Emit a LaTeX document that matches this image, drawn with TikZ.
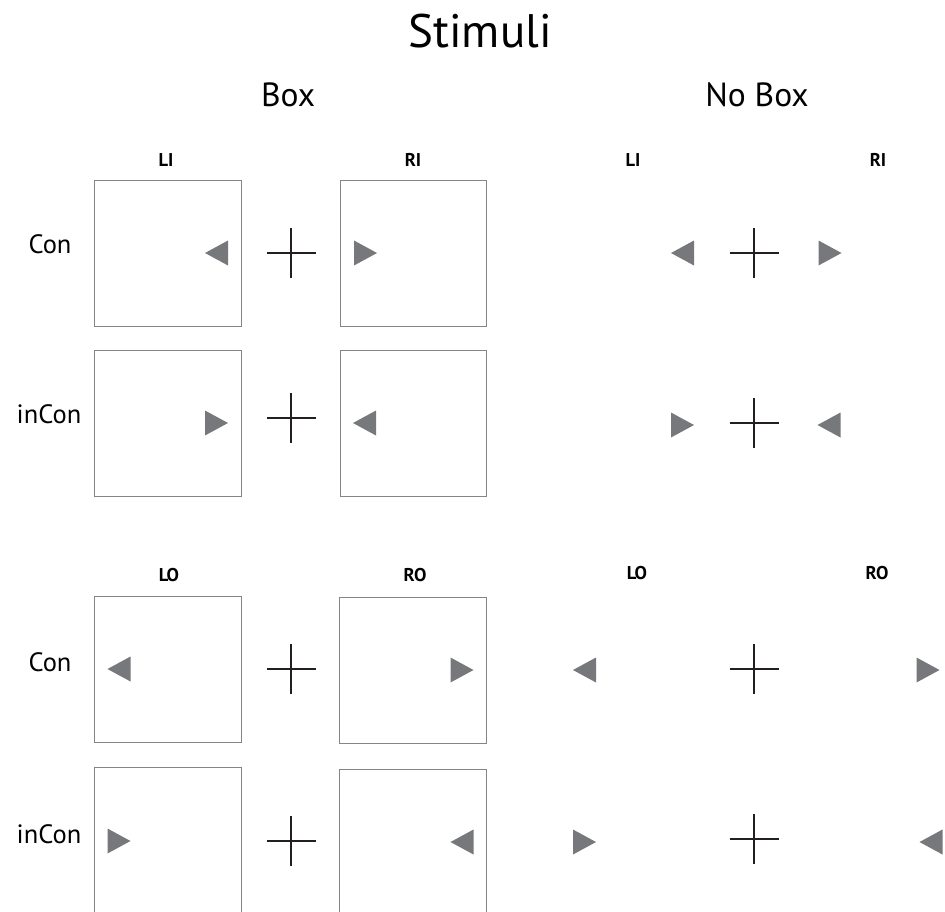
\documentclass[tikz,border=0pt]{standalone}
\usepackage{fontspec}
\setmainfont{PT Sans}
\definecolor{framegray}{HTML}{858585}
\definecolor{trigray}{HTML}{77787B}
\definecolor{crossblack}{HTML}{231F20}
\begin{document}
\begin{tikzpicture}[x=1pt,y=-1pt,
  frame/.style={draw=framegray,line width=1pt},
  fixcross/.style={draw=crossblack,line width=1.5pt},
  title/.style={anchor=base,font=\fontsize{47}{47}\selectfont},
  cond/.style={anchor=base,font=\fontsize{33.5}{33.5}\selectfont},
  side/.style={anchor=base,font=\bfseries\fontsize{18.5}{18.5}\selectfont},
  rowlab/.style={anchor=base,font=\fontsize{26.5}{26.5}\selectfont},
  tril/.pic={\fill[trigray] (-11.5,0) -- (11.5,-12.5) -- (11.5,12.5) -- cycle;},
  trir/.pic={\fill[trigray] (11.5,0) -- (-11.5,-12.5) -- (-11.5,12.5) -- cycle;},
  fix/.pic={\draw[fixcross] (-24.5,0) -- (24.5,0) (0,-25) -- (0,25);}
]
\useasboundingbox (0,0) rectangle (945,911);
\clip (0,0) rectangle (945,911);
% titles
\node[title] (stim) at (480,47) {Stimuli};
\node[cond] (box) at (288,106) {Box};
\node[cond] (nobox) at (757,106) {No Box};
% column headers
\node[side] (hLI) at (166,166) {LI};
\node[side] (hRI) at (413,166) {RI};
\node[side] (hLIn) at (633,166) {LI};
\node[side] (hRIn) at (878,166) {RI};
\node[side] (hLO) at (169,581) {LO};
\node[side] (hRO) at (415,581) {RO};
\node[side] (hLOn) at (637,579) {LO};
\node[side] (hROn) at (877,579) {RO};
% row labels
\node[rowlab] (r1) at (50,253) {Con};
\node[rowlab] (r2) at (49,423) {inCon};
\node[rowlab] (r3) at (50,671) {Con};
\node[rowlab] (r4) at (49,843) {inCon};
% boxes
\draw[frame] (94,180) rectangle (241,326);
\draw[frame] (340,180) rectangle (486,326);
\draw[frame] (94,350) rectangle (241,496);
\draw[frame] (340,350) rectangle (486,496);
\draw[frame] (94,596) rectangle (241,742);
\draw[frame] (339,597) rectangle (486,743);
\draw[frame] (94,767) rectangle (241,914);
\draw[frame] (339,769) rectangle (486,916);
% fixation crosses
\pic at (291,253) {fix};
\pic at (291,418) {fix};
\pic at (291,669) {fix};
\pic at (291,841) {fix};
\pic at (754,253) {fix};
\pic at (754,423) {fix};
\pic at (754,669) {fix};
\pic at (754,839) {fix};
% row 1
\pic at (216.5,253) {tril};
\pic at (365.5,253) {trir};
\pic at (682.5,253) {tril};
\pic at (830,253) {trir};
% row 2
\pic at (216.5,423) {trir};
\pic at (364.5,423) {tril};
\pic at (682.5,425) {trir};
\pic at (829,425) {tril};
% row 3
\pic at (119,669) {tril};
\pic at (462,670) {trir};
\pic at (584.5,670) {tril};
\pic at (928,670) {trir};
% row 4
\pic at (119,841) {trir};
\pic at (462,842) {tril};
\pic at (584.5,842) {trir};
\pic at (931,842) {tril};
\end{tikzpicture}
\end{document}
